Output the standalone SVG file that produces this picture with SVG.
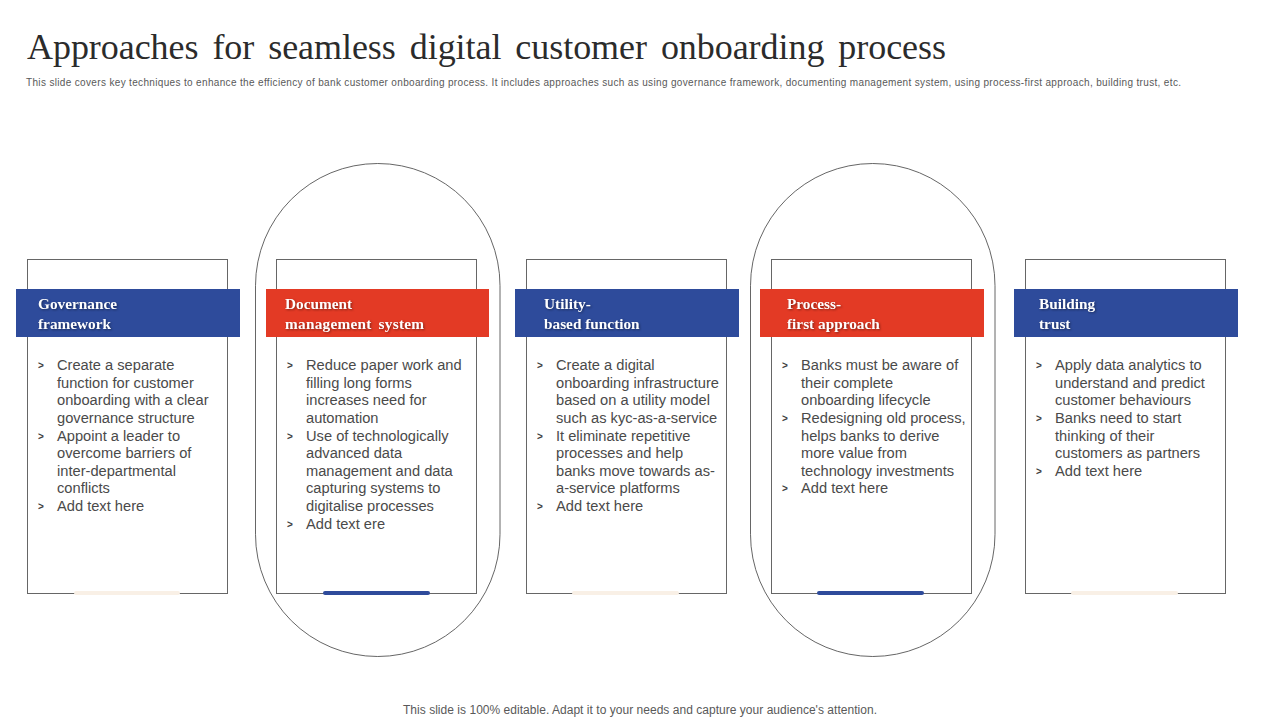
<svg xmlns="http://www.w3.org/2000/svg" width="1280" height="720" viewBox="0 0 1280 720">
<style>
.title{font:36px "Liberation Serif",serif;fill:#2b2b2b}
.sub{font:10px "Liberation Sans",Arial,sans-serif;fill:#595959}
.foot{font:12px "Liberation Sans",Arial,sans-serif;fill:#595959}
.card{fill:#fff;stroke:#666;stroke-width:1}
.oval{fill:none;stroke:#666;stroke-width:1}
.hd{font:bold 15.3px "Liberation Serif",serif;fill:#fff;filter:drop-shadow(1px 1px 1px rgba(0,0,0,.4))}
.b{font:14.67px "Liberation Sans",Arial,sans-serif;fill:#4a4a4a}
.m{font:bold 10px "Liberation Sans",Arial,sans-serif;fill:#404040}
.blue{fill:#2e4b9b}.red{fill:#e33a25}.cream{fill:#f9f0e6}.navy{fill:#2e4b9b}
</style>
<rect width="1280" height="720" fill="#fff"/>
<text class="title" x="27" y="59" textLength="919" word-spacing="5">Approaches for seamless digital customer onboarding process</text>
<text class="sub" x="26" y="86" textLength="1155">This slide covers key techniques to enhance the efficiency of bank customer onboarding process. It includes approaches such as using governance framework, documenting management system, using process-first approach, building trust, etc.</text>
<g id="connectors"></g>
<rect id="oval-2" class="oval" x="255.500" y="163.500" width="244.500" height="493" rx="122.250" ry="122.250"/>
<rect id="oval-4" class="oval" x="750.500" y="163.500" width="244.500" height="493" rx="122.250" ry="122.250"/>
<g id="node-1">
<rect class="card" x="27.500" y="259.500" width="200" height="334"/>
<rect class="cream" x="74" y="591" width="106" height="4" rx="2"/>
<rect class="blue" x="16" y="289" width="224" height="48"/>
<text class="hd" x="38" y="309">Governance</text><text class="hd" x="38" y="329">framework</text>
<text class="m" x="38" y="369">&gt;</text><text class="b" x="57" y="370">Create a separate</text>
<text class="b" x="57" y="388">function for customer</text>
<text class="b" x="57" y="405">onboarding with a clear</text>
<text class="b" x="57" y="423">governance structure</text>
<text class="m" x="38" y="440">&gt;</text><text class="b" x="57" y="441">Appoint a leader to</text>
<text class="b" x="57" y="458">overcome barriers of</text>
<text class="b" x="57" y="476">inter-departmental</text>
<text class="b" x="57" y="493">conflicts</text>
<text class="m" x="38" y="510">&gt;</text><text class="b" x="57" y="511">Add text here</text>
</g>
<g id="node-2">
<rect class="card" x="276.500" y="259.500" width="200" height="334"/>
<rect class="navy" x="323" y="591" width="107" height="4" rx="2"/>
<rect class="red" x="266" y="289" width="223" height="48"/>
<text class="hd" x="285" y="309">Document</text><text class="hd" x="285" y="329" textLength="139" word-spacing="3">management system</text>
<text class="m" x="287" y="369">&gt;</text><text class="b" x="306" y="370">Reduce paper work and</text>
<text class="b" x="306" y="388">filling long forms</text>
<text class="b" x="306" y="405">increases need for</text>
<text class="b" x="306" y="423">automation</text>
<text class="m" x="287" y="440">&gt;</text><text class="b" x="306" y="441">Use of technologically</text>
<text class="b" x="306" y="458">advanced data</text>
<text class="b" x="306" y="476">management and data</text>
<text class="b" x="306" y="493">capturing systems to</text>
<text class="b" x="306" y="511">digitalise processes</text>
<text class="m" x="287" y="528">&gt;</text><text class="b" x="306" y="529">Add text ere</text>
</g>
<g id="node-3">
<rect class="card" x="526.500" y="259.500" width="200" height="334"/>
<rect class="cream" x="572" y="591" width="107" height="4" rx="2"/>
<rect class="blue" x="515" y="289" width="224" height="48"/>
<text class="hd" x="544" y="309">Utility-</text><text class="hd" x="544" y="329">based function</text>
<text class="m" x="537" y="369">&gt;</text><text class="b" x="556" y="370">Create a digital</text>
<text class="b" x="556" y="388">onboarding infrastructure</text>
<text class="b" x="556" y="405">based on a utility model</text>
<text class="b" x="556" y="423">such as kyc-as-a-service</text>
<text class="m" x="537" y="440">&gt;</text><text class="b" x="556" y="441">It eliminate repetitive</text>
<text class="b" x="556" y="458">processes and help</text>
<text class="b" x="556" y="476">banks move towards as-</text>
<text class="b" x="556" y="493">a-service platforms</text>
<text class="m" x="537" y="510">&gt;</text><text class="b" x="556" y="511">Add text here</text>
</g>
<g id="node-4">
<rect class="card" x="771.500" y="259.500" width="200" height="334"/>
<rect class="navy" x="817" y="591" width="107" height="4" rx="2"/>
<rect class="red" x="760" y="289" width="224" height="48"/>
<text class="hd" x="787" y="309">Process-</text><text class="hd" x="787" y="329">first approach</text>
<text class="m" x="782" y="369">&gt;</text><text class="b" x="801" y="370">Banks must be aware of</text>
<text class="b" x="801" y="388">their complete</text>
<text class="b" x="801" y="405">onboarding lifecycle</text>
<text class="m" x="782" y="422">&gt;</text><text class="b" x="801" y="423">Redesigning old process,</text>
<text class="b" x="801" y="441">helps banks to derive</text>
<text class="b" x="801" y="458">more value from</text>
<text class="b" x="801" y="476">technology investments</text>
<text class="m" x="782" y="492">&gt;</text><text class="b" x="801" y="493">Add text here</text>
</g>
<g id="node-5">
<rect class="card" x="1025.500" y="259.500" width="200" height="334"/>
<rect class="cream" x="1071" y="591" width="107" height="4" rx="2"/>
<rect class="blue" x="1014" y="289" width="224" height="48"/>
<text class="hd" x="1039" y="309">Building</text><text class="hd" x="1039" y="329">trust</text>
<text class="m" x="1036" y="369">&gt;</text><text class="b" x="1055" y="370">Apply data analytics to</text>
<text class="b" x="1055" y="388">understand and predict</text>
<text class="b" x="1055" y="405">customer behaviours</text>
<text class="m" x="1036" y="422">&gt;</text><text class="b" x="1055" y="423">Banks need to start</text>
<text class="b" x="1055" y="441">thinking of their</text>
<text class="b" x="1055" y="458">customers as partners</text>
<text class="m" x="1036" y="475">&gt;</text><text class="b" x="1055" y="476">Add text here</text>
</g>
<text class="foot" x="403" y="714" textLength="474">This slide is 100% editable. Adapt it to your needs and capture your audience's attention.</text>
</svg>
